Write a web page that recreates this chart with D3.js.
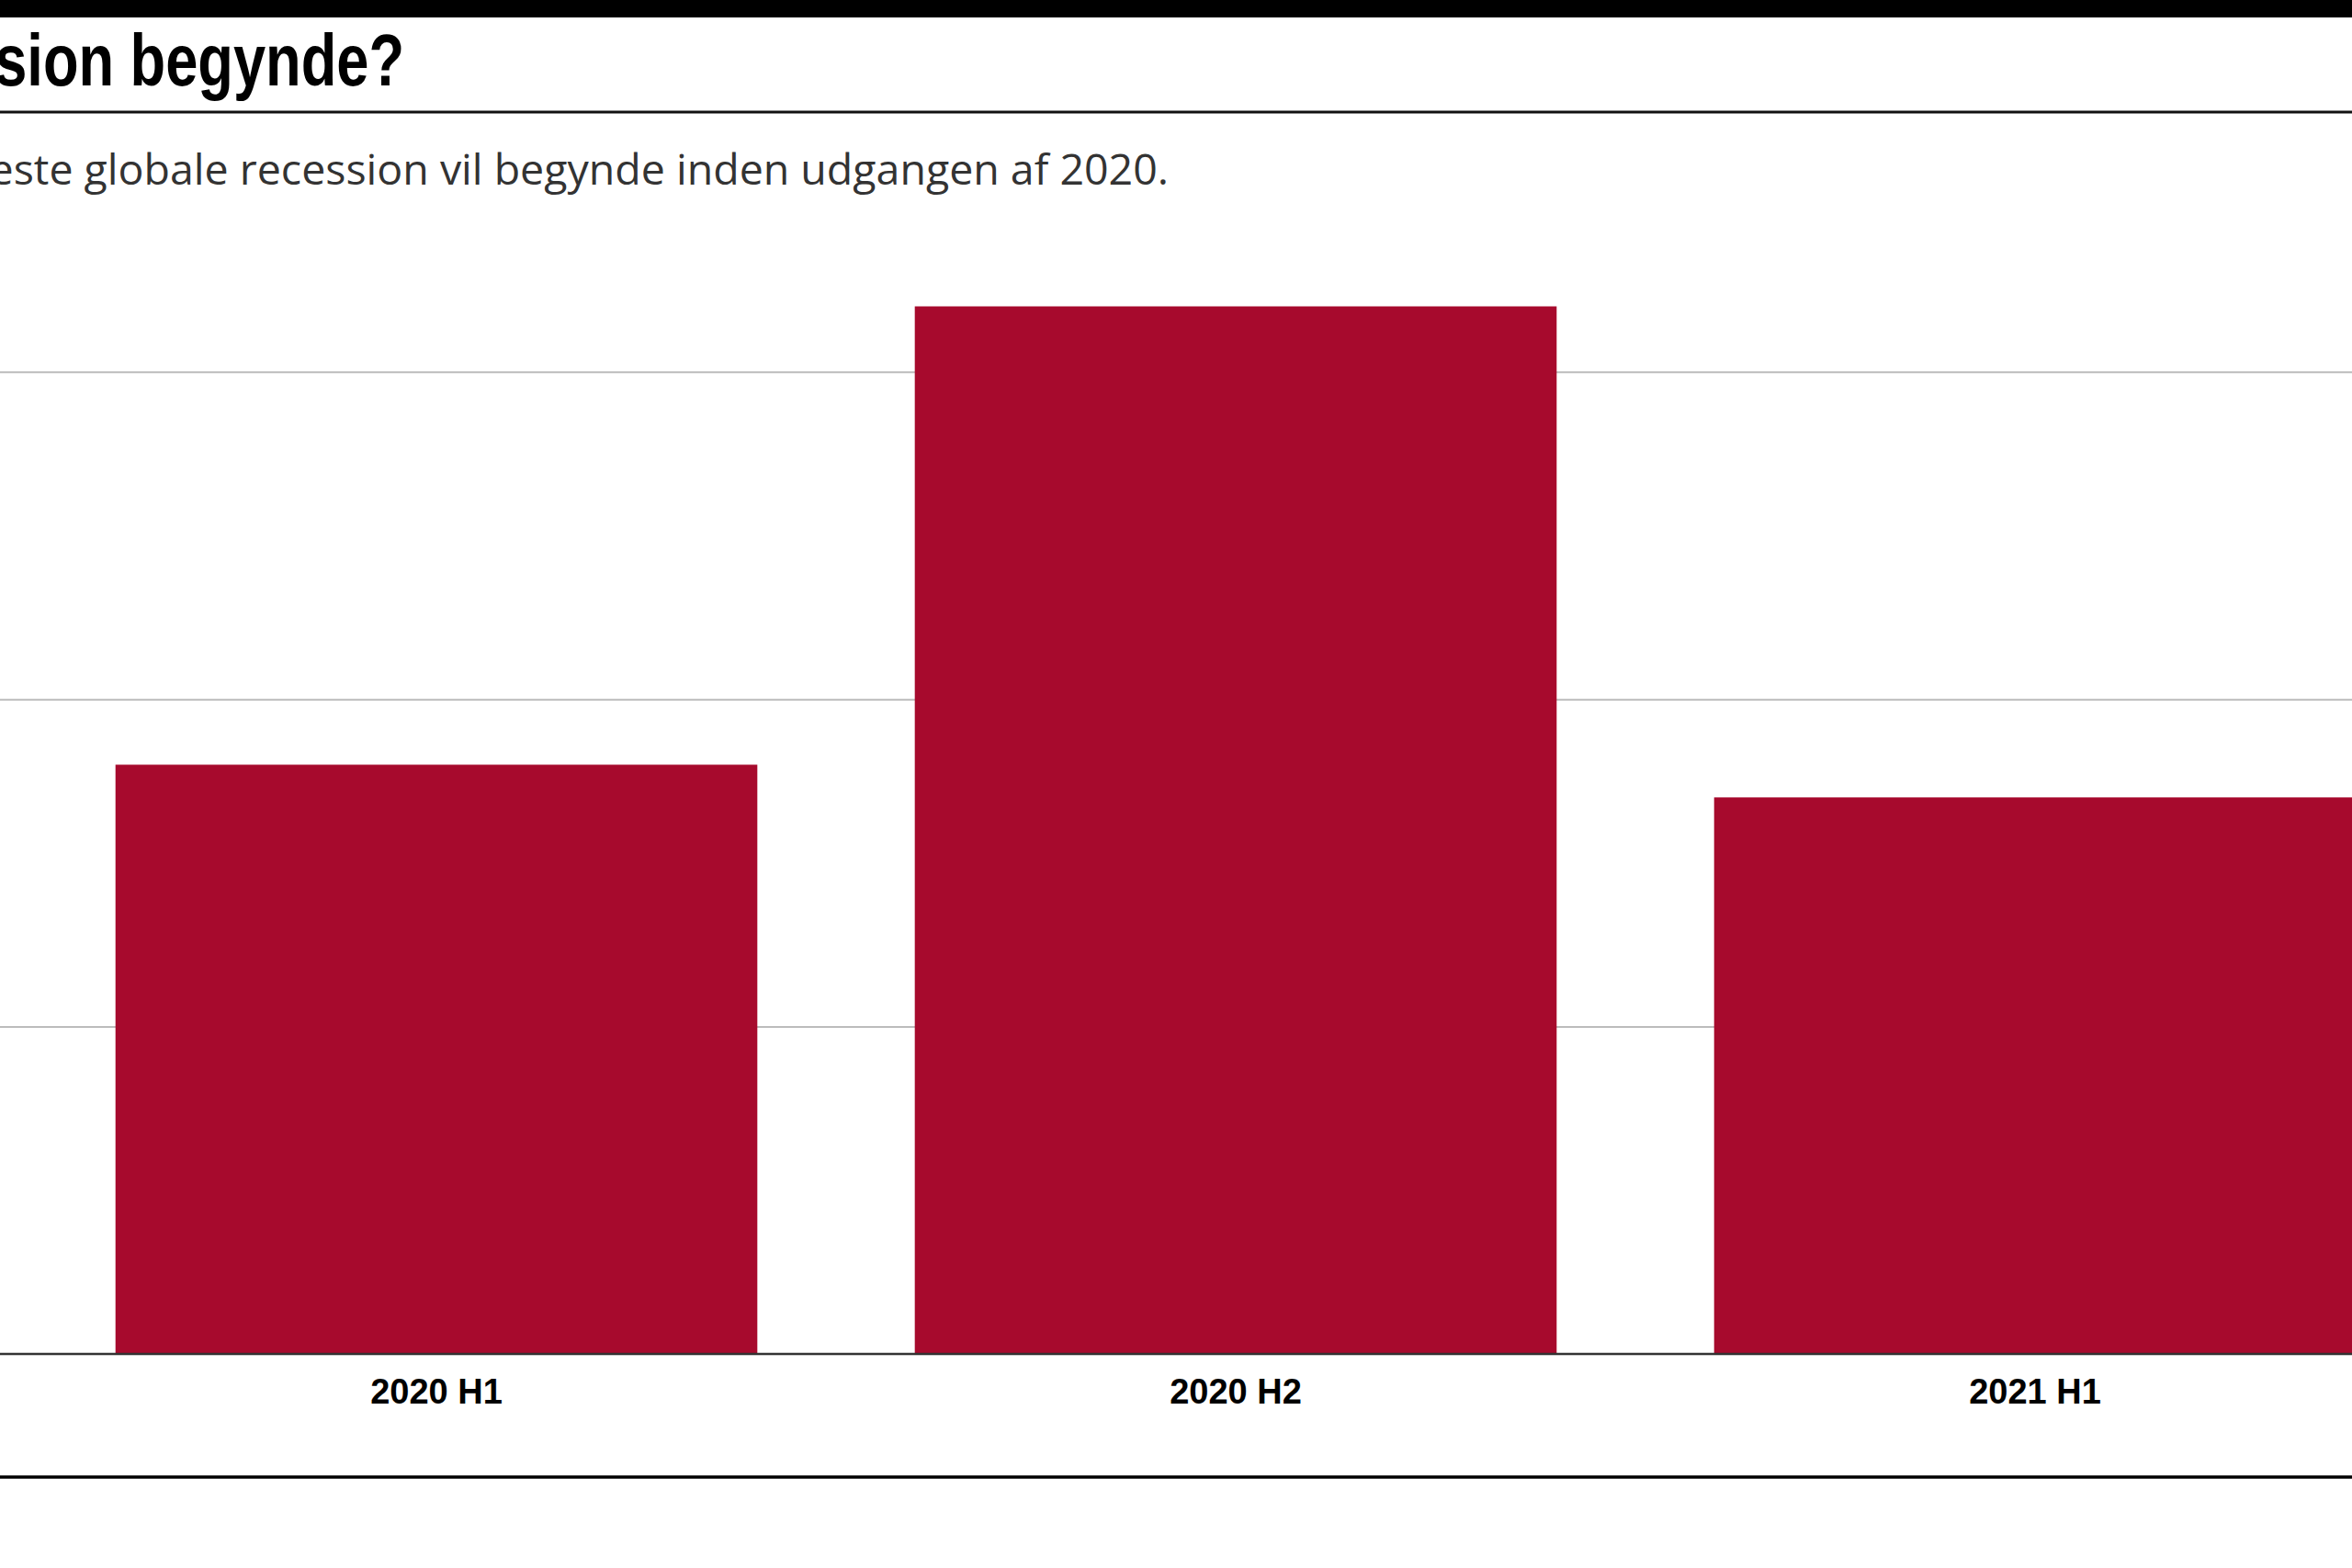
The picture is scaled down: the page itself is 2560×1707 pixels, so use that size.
<!DOCTYPE html>
<html>
<head>
<meta charset="utf-8">
<script src="https://cdn.jsdelivr.net/npm/d3@7"></script>
<style>
  body { margin: 0; background: #fff; }
  svg { display: block; overflow: hidden; }
</style>
</head>
<body>
<div id="chart"></div>
<script>
const w = 2560;
const h = 1707;

const title = "Hvornår vil den næste recession begynde?";
const subtitle = "Et flertal af økonomerne forventer, at den næste globale recession vil begynde inden udgangen af 2020.";
const periods = ["2020 H1", "2020 H2", "2021 H1"];
const shares = [18, 32, 17];
const gridTicks = [10, 20, 30];

const baseY = 1474;

let x = d3
  .scaleBand()
  .domain(periods)
  .range([40, 2650])
  .paddingInner(0.197)
  .paddingOuter(0.0985);

let y = d3
  .scaleLinear()
  .domain([0, 40])
  .range([baseY, baseY - 4 * 356.4]);

let svg = d3
  .select("#chart")
  .append("svg")
  .attr("width", w)
  .attr("height", h);

svg.append("rect").attr("width", w).attr("height", h).attr("fill", "#fff");

// top band and title
svg.append("rect").attr("x", 0).attr("y", 0).attr("width", w).attr("height", 19).attr("fill", "#000");

// narrow bold look: squeeze a regular bold face horizontally
svg
  .append("text")
  .text(title)
  .attr("transform", "translate(440,93) scale(0.8,1)")
  .attr("text-anchor", "end")
  .attr("font-family", "'Liberation Sans', Arial, sans-serif")
  .attr("font-weight", "bold")
  .attr("font-size", 79)
  .attr("fill", "#000");

svg.append("line")
  .attr("x1", 0).attr("x2", w)
  .attr("y1", 122).attr("y2", 122)
  .attr("stroke", "#111")
  .attr("stroke-width", 3);

svg
  .append("text")
  .text(subtitle)
  .attr("x", 1272)
  .attr("y", 201)
  .attr("text-anchor", "end")
  .attr("font-family", "'Open Sans', 'Noto Sans', sans-serif")
  .attr("font-size", 46.5)
  .attr("fill", "#333");

// gridlines
let grid = svg
  .append("g")
  .call(d3.axisLeft(y).tickValues(gridTicks).tickSize(-w).tickFormat(""));
grid.select(".domain").remove();
grid.selectAll("line").attr("stroke", "#bcbcbc").attr("stroke-width", 2);

// bars
svg
  .selectAll("rect.bar")
  .data(periods)
  .enter()
  .append("rect")
  .attr("class", "bar")
  .attr("x", d => x(d))
  .attr("width", x.bandwidth())
  .attr("y", (d, i) => y(shares[i]))
  .attr("height", (d, i) => y(0) - y(shares[i]))
  .attr("fill", "#a70a2d");

// x axis
let xAxis = svg
  .append("g")
  .attr("transform", `translate(0,${baseY})`)
  .call(d3.axisBottom(x).tickSize(0));
xAxis.select(".domain").remove();
xAxis
  .selectAll("text")
  .attr("dy", null)
  .attr("y", 54)
  .attr("font-family", "'Liberation Sans', Arial, sans-serif")
  .attr("font-weight", "bold")
  .attr("font-size", 38)
  .attr("fill", "#000");

svg.append("line")
  .attr("x1", 0).attr("x2", w)
  .attr("y1", baseY).attr("y2", baseY)
  .attr("stroke", "#333")
  .attr("stroke-width", 2.5);

// bottom rule
svg.append("line")
  .attr("x1", 0).attr("x2", w)
  .attr("y1", 1608).attr("y2", 1608)
  .attr("stroke", "#000")
  .attr("stroke-width", 3.5);
</script>
</body>
</html>
